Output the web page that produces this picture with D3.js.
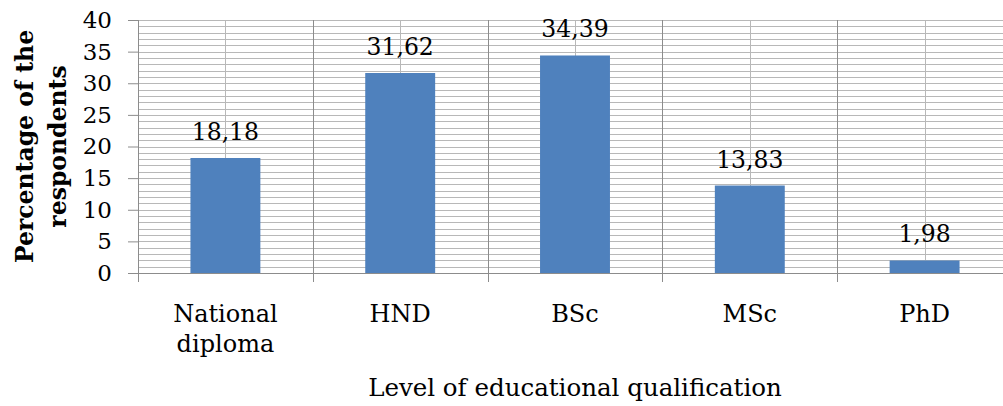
<!DOCTYPE html>
<html>
<head>
<meta charset="utf-8">
<script src="https://cdn.jsdelivr.net/npm/d3@7"></script>
<style>
  body { margin: 0; background: #fff; }
  svg text { font-family: "DejaVu Serif", "Liberation Serif", serif; fill: #000; }
</style>
</head>
<body>
<svg id="chart" width="1003" height="406"></svg>
<script>
const categories = [["National", "diploma"], ["HND"], ["BSc"], ["MSc"], ["PhD"]];
const values = [18.18, 31.62, 34.39, 13.83, 1.98];
const yTicks = [0, 5, 10, 15, 20, 25, 30, 35, 40];

const svg = d3.select("#chart");
const margin = { left: 138, right: -9, top: 20, bottom: 133 };
const width = 1003 - margin.left - margin.right;
const height = 406 - margin.top - margin.bottom;
const g = svg.append("g").attr("transform", `translate(${margin.left},${margin.top})`);

const keys = categories.map((c) => c.join(" "));
const x = d3.scaleBand().domain(keys).range([0, width]).paddingInner(0).paddingOuter(0);
const y = d3.scaleLinear().domain([0, 40]).range([height, 0]);
const barW = x.bandwidth() * 0.4;

// minor horizontal grid
g.selectAll(".hgrid")
    .data(d3.range(1, 41))
    .enter()
    .append("line")
    .attr("x1", 0).attr("x2", width)
    .attr("y1", (d) => Math.round(y(d)) + 0.5)
    .attr("y2", (d) => Math.round(y(d)) + 0.5)
    .attr("stroke", "#b8b8b8")
    .attr("stroke-width", 1);

// vertical grid at category centres
g.selectAll(".vcenter")
    .data(keys)
    .enter()
    .append("line")
    .attr("x1", (d) => Math.round(x(d) + x.bandwidth() / 2) + 0.5)
    .attr("x2", (d) => Math.round(x(d) + x.bandwidth() / 2) + 0.5)
    .attr("y1", 0).attr("y2", height)
    .attr("stroke", "#b8b8b8");

// vertical grid at category boundaries
g.selectAll(".vbound")
    .data(keys.slice(1).concat(["end"]))
    .enter()
    .append("line")
    .attr("x1", (d, i) => Math.round(x.step() * (i + 1)) + 0.5)
    .attr("x2", (d, i) => Math.round(x.step() * (i + 1)) + 0.5)
    .attr("y1", 0).attr("y2", height + 9)
    .attr("stroke", "#8c8c8c");

// bars
g.selectAll(".bar")
    .data(values)
    .enter()
    .append("rect")
    .attr("x", (d, i) => x(keys[i]) + x.bandwidth() / 2 - barW / 2)
    .attr("width", barW)
    .attr("y", (d) => y(d))
    .attr("height", (d) => height - y(d))
    .attr("fill", "#4f81bd");

// value labels
g.selectAll(".val")
    .data(values)
    .enter()
    .append("text")
    .attr("x", (d, i) => x(keys[i]) + x.bandwidth() / 2)
    .attr("y", (d) => y(d) - 18)
    .attr("text-anchor", "middle")
    .attr("font-size", 23.5)
    .text((d) => d.toFixed(2).replace(".", ","));

// y axis
const yAxis = g.append("g")
    .call(d3.axisLeft(y).tickValues(yTicks).tickSize(10).tickPadding(16));
yAxis.select(".domain").attr("stroke", "#8c8c8c").attr("d", `M0.5,0V${height}`);
yAxis.selectAll(".tick line").attr("stroke", "#8c8c8c");
yAxis.selectAll(".tick text")
    .attr("font-size", 23)
    .attr("font-family", "DejaVu Serif, serif")
    .attr("fill", "#000");

// x axis line + left tick
g.append("line")
    .attr("x1", 0).attr("x2", width)
    .attr("y1", height + 0.5).attr("y2", height + 0.5)
    .attr("stroke", "#8c8c8c");
g.append("line")
    .attr("x1", 0.5).attr("x2", 0.5)
    .attr("y1", height).attr("y2", height + 9)
    .attr("stroke", "#8c8c8c");

// category labels
const cat = g.selectAll(".cat")
    .data(categories)
    .enter()
    .append("text")
    .attr("text-anchor", "middle")
    .attr("font-size", 24)
    .attr("transform", (d, i) => `translate(${x(keys[i]) + x.bandwidth() / 2},${height + 49})`);
cat.selectAll("tspan")
    .data((d) => d)
    .enter()
    .append("tspan")
    .attr("x", 0)
    .attr("dy", (d, i) => (i === 0 ? 0 : 30))
    .text((d) => d);

// axis titles
svg.append("text")
    .attr("x", 575)
    .attr("y", 396)
    .attr("text-anchor", "middle")
    .attr("font-size", 24.5)
    .text("Level of educational qualification");

const yTitle = svg.append("text")
    .attr("transform", `translate(0,${margin.top + height / 2}) rotate(-90)`)
    .attr("text-anchor", "middle")
    .attr("font-size", 23.5)
    .attr("font-weight", "bold");
yTitle.append("tspan").attr("x", 0).attr("y", 33).text("Percentage of the");
yTitle.append("tspan").attr("x", 0).attr("y", 66).text("respondents");
</script>
</body>
</html>
